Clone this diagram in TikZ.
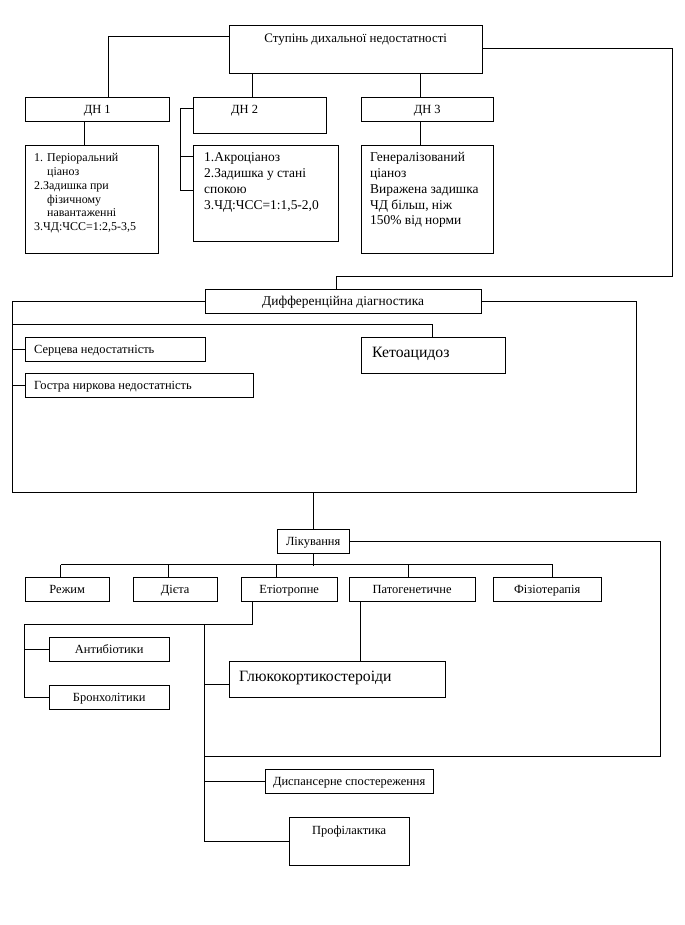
\documentclass[tikz,border=0pt]{standalone}
\usepackage{fontspec}
\setmainfont{Liberation Serif}
\usetikzlibrary{calc}
\newcommand{\tb}[5]{\parbox[t][#2bp][t]{#1bp}{#4\lineskiplimit=-100pt\rule{0pt}{#3bp}#5}}
\newcommand{\fs}{\fontsize{12.5}{14}\selectfont}
\newcommand{\ft}{\fontsize{13}{14}\selectfont}
\newcommand{\fd}{\fontsize{13.5}{14}\selectfont}
\newcommand{\fa}{\fontsize{12}{14}\selectfont}
\newcommand{\fb}{\fontsize{13.5}{16}\selectfont}
\newcommand{\fl}{\fontsize{15.8}{18}\selectfont}
\begin{document}
\begin{tikzpicture}[x=1bp,y=-1bp,
  box/.style={draw,line width=1.4bp,inner sep=0pt,anchor=north west,font=\fs},
  link/.style={line width=1.4bp}]
\useasboundingbox (0,0) rectangle (685,925);
\begin{scope}[shift={(0.5,0.5)}]
% boxes
\node[box,font=\ft] (T) at (228,24) {\tb{253}{48}{17}{\centering}{Ступінь дихальної недостатності}};
\node[box] (DH1) at (24,96) {\tb{144}{24}{16}{\centering}{ДН 1}};
\node[box] (DH2) at (192,96) {\tb{133}{36}{16}{\raggedright}{\hspace*{38bp}ДН 2}};
\node[box] (DH3) at (360,96) {\tb{132}{24}{16}{\centering}{ДН 3}};
\node[box,font=\fa] (B1) at (24,144) {\tb{133}{108}{16}{\raggedright}{\hspace*{9bp}1. Періоральний\\\hspace*{22bp}ціаноз\\\hspace*{9bp}2.Задишка при\\\hspace*{22bp}фізичному\\\hspace*{22bp}навантаженні\\\hspace*{9bp}3.ЧД:ЧСС=1:2,5-3,5}};
\node[box,font=\fb] (B2) at (192,144) {\tb{145}{96}{16}{\raggedright}{\hspace*{11bp}1.Акроціаноз\\\hspace*{11bp}2.Задишка у стані\\\hspace*{11bp}спокою\\\hspace*{11bp}3.ЧД:ЧСС=1:1,5-2,0}};
\node[box,font=\fb] (B3) at (360,144) {\tb{132}{108}{16}{\raggedright}{\hspace*{9bp}Генералізований\\\hspace*{9bp}ціаноз\\\hspace*{9bp}Виражена задишка\\\hspace*{9bp}ЧД більш, ніж\\\hspace*{9bp}150\% від норми}};
\node[box,font=\fd] (D) at (204,288) {\tb{276}{24}{16}{\centering}{Дифференційна діагностика}};
\node[box] (S) at (24,336) {\tb{180}{24}{16}{\raggedright}{\hspace*{9bp}Серцева недостатність}};
\node[box] (G) at (24,372) {\tb{228}{24}{16}{\raggedright}{\hspace*{9bp}Гостра ниркова недостатність}};
\node[box,font=\fl] (K) at (360,336) {\tb{144}{36}{20}{\raggedright}{\hspace*{11bp}Кетоацидоз}};
\node[box] (L) at (276,528) {\tb{72}{24}{16}{\centering}{Лікування}};
\node[box] (R1) at (24,576) {\tb{84}{24}{16}{\centering}{Режим}};
\node[box] (R2) at (132,576) {\tb{84}{24}{16}{\centering}{Дієта}};
\node[box] (R3) at (240,576) {\tb{96}{24}{16}{\centering}{Етіотропне}};
\node[box] (R4) at (348,576) {\tb{126}{24}{16}{\centering}{Патогенетичне}};
\node[box] (R5) at (492,576) {\tb{108}{24}{16}{\centering}{Фізіотерапія}};
\node[box] (A) at (48,636) {\tb{120}{24}{16}{\centering}{Антибіотики}};
\node[box] (Br) at (48,684) {\tb{120}{24}{16}{\centering}{Бронхолітики}};
\node[box,font=\fl] (Gl) at (228,660) {\tb{216}{36}{20}{\raggedright}{\hspace*{10bp}Глюкокортикостероіди}};
\node[box] (Ds) at (264,768) {\tb{168}{24}{16}{\centering}{Диспансерне спостереження}};
\node[box] (P) at (288,816) {\tb{120}{48}{17}{\centering}{Профілактика}};
% helper coordinates
\coordinate (rt) at (672,276);
\coordinate (fbl) at (12,492);
\coordinate (fbr) at (636,492);
\coordinate (fl324) at (12,324);
\coordinate (rb) at (660,756);
\coordinate (lb) at (204,756);
\coordinate (e1) at (24,624);
\coordinate (v1) at (204,624);
% connectors
\draw[link] ($(T.north west)+(0,12)$) -| ($(DH1.north west)+(84,0)$);
\draw[link] ($(DH2.north west)+(60,0)$) -- ($(T.south west)+(24,0)$);
\draw[link] ($(DH3.north west)+(60,0)$) -- ($(T.south west)+(192,0)$);
\draw[link] ($(T.north east)+(0,24)$) -| (rt) -| ($(D.north west)+(132,0)$);
\draw[link] ($(DH1.south west)+(60,0)$) -- ($(B1.north west)+(60,0)$);
\draw[link] ($(DH2.north west)+(0,12)$) -- ++(-12,0) |- ($(B2.north west)+(0,46)$);
\draw[link] ($(B2.north west)+(0,12)$) -- ++(-12,0);
\draw[link] ($(DH3.south west)+(60,0)$) -- ($(B3.north west)+(60,0)$);
\draw[link] (D.west) -| (fbl) -- (fbr) |- (D.east);
\draw[link] (fl324) -| ($(K.north west)+(72,0)$);
\draw[link] (S.west) -- ++(-12,0);
\draw[link] (G.west) -- ++(-12,0);
\draw[link] (L.north) -- (L.north |- fbl);
\draw[link] (L.south) -- ++(0,12);
\draw[link] ($(R1.north west)+(36,-12)$) -- ($(R5.north west)+(60,-12)$);
\draw[link] ($(R1.north west)+(36,0)$) -- ++(0,-12);
\draw[link] ($(R2.north west)+(36,0)$) -- ++(0,-12);
\draw[link] ($(R3.north west)+(36,0)$) -- ++(0,-12);
\draw[link] ($(R4.north west)+(60,0)$) -- ++(0,-12);
\draw[link] ($(R5.north west)+(60,0)$) -- ++(0,-12);
\draw[link] (L.east) -| (rb) -- (lb);
\draw[link] ($(R3.south west)+(12,0)$) |- (e1) |- (Br.west);
\draw[link] (A.west) -- ++(-24,0);
\draw[link] (v1) |- (P.west);
\draw[link] ($(Gl.north west)+(0,24)$) -- ++(-24,0);
\draw[link] (Ds.west) -- ++(-60,0);
\draw[link] ($(R4.south west)+(12,0)$) -- ($(Gl.north west)+(132,0)$);
\end{scope}
\end{tikzpicture}
\end{document}
